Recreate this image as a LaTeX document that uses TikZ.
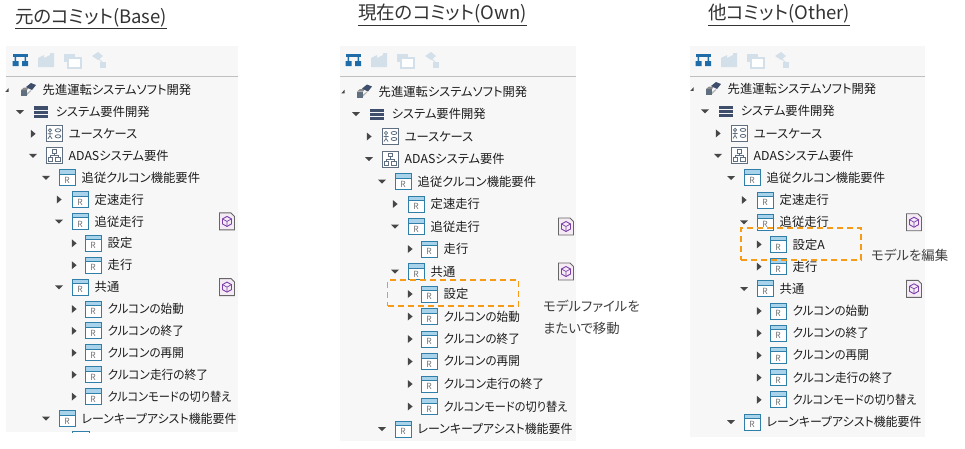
\documentclass[tikz,border=0pt]{standalone}
\usepackage{fontspec}
\setmainfont{Noto Sans CJK JP}[RawFeature={+palt}]
\usetikzlibrary{calc}
\definecolor{txt}{HTML}{1C1C1C}
\definecolor{rblue}{HTML}{2F7FA8}
\definecolor{rhead}{HTML}{A9D3EA}
\definecolor{navy}{HTML}{3F4F6B}
\definecolor{slate}{HTML}{5F6F80}
\definecolor{tb}{HTML}{1F6CA8}
\definecolor{tbp}{HTML}{D3DFE9}
\definecolor{dashor}{HTML}{F79A16}
\definecolor{purp}{HTML}{7A3FA8}
\tikzset{
  x=1pt,y=-1pt,
  panelbg/.style={fill=black!3,draw=none},
  rowtext/.style={anchor=west,inner sep=0pt,font=\fontsize{12.3}{14}\selectfont,text=txt},
  titletext/.style={anchor=west,inner sep=0pt,font=\fontsize{18.5}{22}\selectfont,text=black!80},
  notetext/.style={anchor=west,inner sep=0pt,font=\fontsize{13.4}{22}\selectfont,text=black!75,align=left},
  dashbox/.style={draw=dashor,line width=1.7pt,dash pattern=on 6pt off 4pt,inner sep=0pt},
}
\newcommand{\nar}[2]{\scalebox{#1}[1]{#2}}
\newcommand{\arrR}{\fill[black!72] (-2.2,-4)--(2.6,0)--(-2.2,4)--cycle;}
\newcommand{\arrD}{\fill[black!72] (-4,-1.8)--(4,-1.8)--(0,2.2)--cycle;}
\newcommand{\arrN}{\fill[black!72] (-1.7,1.8)--(1.7,-1.8)--(1.7,1.8)--cycle;}
\newcommand{\icoR}{%
  \fill[white] (-8,-8) rectangle (8,8);
  \fill[rhead] (-8,-8) rectangle (8,-4);
  \draw[rblue,line width=1pt] (-8,-8) rectangle (8,8);
  \draw[rblue,line width=1pt] (-8,-3.5) -- (8,-3.5);
  \node[inner sep=0pt,font=\fontsize{8.5}{9}\selectfont,text=black!55] at (0,2.5) {R};}
\newcommand{\icoRoot}{%
  \fill[slate] (-7,0) rectangle (-1,6);
  \fill[black!45] (-7,0) -- (-4,-2.5) -- (1,-2.5) -- (-1,0) -- cycle;
  \fill[navy] (-2,-3) -- (3,-7) -- (8,-5) -- (4,0) -- cycle;
  \fill[black!30] (-1,3) -- (3,0) -- (3,1) -- (-1,5) -- cycle;}
\newcommand{\icoStack}{%
  \fill[navy] (-7,-5.5) rectangle (7,-2);
  \fill[navy] (-7,-1) rectangle (7,2);
  \fill[navy] (-7,3) rectangle (7,6);}
\newcommand{\icoUse}{%
  \draw[slate,fill=white,line width=.9pt] (-8,-8) rectangle (8,8);
  \draw[slate,line width=.8pt] (-4,-3.5) circle (1.6) (-4,-2)--(-4,2) (-6.5,0)--(-1.5,0) (-6,5)--(-4,2)--(-2,5);
  \draw[slate,line width=.8pt] (4,-3.5) ellipse (2.8 and 1.6) (4,2.5) ellipse (2.8 and 1.6);}
\newcommand{\icoAdas}{%
  \draw[slate,fill=white,line width=.9pt] (-8,-8) rectangle (8,8);
  \draw[slate,line width=.8pt] (-2,-6) rectangle (2,-2.5) (-6,2) rectangle (-1.5,6) (1.5,2) rectangle (6,6);
  \draw[slate,line width=.8pt] (0,-2.5)--(0,0) (-4,2)--(-4,0)--(4,0)--(4,2);}
\newcommand{\icoModel}{%
  \fill[violet!8,draw=black!60,line width=.9pt] (-7.5,-8.5)--(4,-8.5)--(7.5,-5)--(7.5,8.5)--(-7.5,8.5)--cycle;
  \draw[purp,line width=.9pt] (0,-5)--(4.5,-2.5)--(4.5,2.5)--(0,5)--(-4.5,2.5)--(-4.5,-2.5)--cycle;
  \draw[purp,line width=.7pt] (-4.5,-2.5)--(0,0)--(4.5,-2.5) (0,0)--(0,5);}
\newcommand{\toolbar}[1]{%
  \begin{scope}[shift={(#1,60)}]
    \fill[tb] (12.5,-6.5) rectangle (28,-3.5);
    \fill[tb] (12.5,1) rectangle (18.5,6) (22,1) rectangle (28,6);
    \fill[tb] (14.5,-4) rectangle (16,2) (24.5,-4) rectangle (26,2);
    \fill[tbp] (38,-2) -- (44,-5) -- (44,-2) -- (50,-5) -- (50,-7) -- (54,-7) -- (54,7) -- (38,7) -- cycle;
    \fill[tbp] (64,-6) rectangle (75,2);
    \draw[tbp,fill=white,line width=1.2pt] (68,-2) rectangle (81,8);
    \fill[tbp] (92,-4) -- (98,-8) -- (103,-4) -- (98,0) -- cycle;
    \fill[tbp] (100,2) rectangle (106,8);
    \draw[tbp,line width=1pt] (99,-1)--(103,3);
  \end{scope}}
% #1 row index, #2 level, #3 arrow macro, #4 icon macro, #5 name, #6 text
\newcommand{\row}[6]{%
  \pgfmathsetmacro{\ry}{\py+#1*\pstep}%
  \pgfmathsetmacro{\rx}{\px+28+#2*13}%
  \pgfmathsetmacro{\ax}{\px+28+#2*13-(#2==5?19:21)}%
  \pgfmathsetmacro{\tx}{\rx+14.5}%
  \begin{scope}[shift={(\ax,\ry)}]#3\end{scope}
  \begin{scope}[shift={(\rx,\ry)}]#4\end{scope}
  \node[rowtext] (#5) at (\tx,\ry) {#6};}
\newcommand{\badge}[3]{%
  \pgfmathsetmacro{\ry}{\py+#2*\pstep}%
  \begin{scope}[shift={(#1,\ry)}]\icoModel\end{scope}}
\begin{document}
\begin{tikzpicture}
\useasboundingbox (0,0) rectangle (965,448);
\fill[white] (0,0) rectangle (965,448);
% ---------- Base
\fill[panelbg] (6,46) rectangle (238,432);
\node[titletext] (tbase) at (15,18.5) {\underline{元のコミット(Base)}};
\toolbar{0}
\draw[black!25,line width=1pt] (6,76) -- (238,76);
\def\px{0}\def\py{90}\def\pstep{21.9}
\row{0}{0}{\arrN}{\icoRoot}{b0}{先進運転システムソフト開発}
\row{1}{1}{\arrD}{\icoStack}{b1}{システム要件開発}
\row{2}{2}{\arrR}{\icoUse}{b2}{ユースケース}
\row{3}{2}{\arrD}{\icoAdas}{b3}{ADASシステム要件}
\row{4}{3}{\arrD}{\icoR}{b4}{追従クルコン機能要件}
\row{5}{4}{\arrR}{\icoR}{b5}{定速走行}
\row{6}{4}{\arrD}{\icoR}{b6}{追従走行}
\row{7}{5}{\arrR}{\icoR}{b7}{設定}
\row{8}{5}{\arrR}{\icoR}{b8}{走行}
\row{9}{4}{\arrD}{\icoR}{b9}{共通}
\row{10}{5}{\arrR}{\icoR}{b10}{\nar{.94}{クルコンの始動}}
\row{11}{5}{\arrR}{\icoR}{b11}{\nar{.94}{クルコンの終了}}
\row{12}{5}{\arrR}{\icoR}{b12}{\nar{.94}{クルコンの再開}}
\row{13}{5}{\arrR}{\icoR}{b13}{\nar{.95}{クルコン走行の終了}}
\row{14}{5}{\arrR}{\icoR}{b14}{\nar{.91}{クルコンモードの切り替え}}
\row{15}{3}{\arrD}{\icoR}{b15}{\nar{.97}{レーンキープアシスト機能要件}}
\badge{227}{6}{}\badge{227}{9}{}
\draw[rblue,line width=1pt] (72,434) -- (72,431.5) -- (89,431.5) -- (89,434);
\fill[white] (0,432.5) rectangle (300,448);
% ---------- Own
\fill[panelbg] (340,46) rectangle (576,441);
\node[titletext] (town) at (358,15) {\underline{現在のコミット(Own)}};
\toolbar{333}
\draw[black!25,line width=1pt] (340,76) -- (576,76);
\def\px{336}\def\py{91.5}\def\pstep{22.5}
\row{0}{0}{\arrN}{\icoRoot}{o0}{先進運転システムソフト開発}
\row{1}{1}{\arrD}{\icoStack}{o1}{システム要件開発}
\row{2}{2}{\arrR}{\icoUse}{o2}{ユースケース}
\row{3}{2}{\arrD}{\icoAdas}{o3}{ADASシステム要件}
\row{4}{3}{\arrD}{\icoR}{o4}{追従クルコン機能要件}
\row{5}{4}{\arrR}{\icoR}{o5}{定速走行}
\row{6}{4}{\arrD}{\icoR}{o6}{追従走行}
\row{7}{5}{\arrR}{\icoR}{o7}{走行}
\row{8}{4}{\arrD}{\icoR}{o8}{共通}
\row{9}{5}{\arrR}{\icoR}{o9}{設定}
\row{10}{5}{\arrR}{\icoR}{o10}{\nar{.94}{クルコンの始動}}
\row{11}{5}{\arrR}{\icoR}{o11}{\nar{.94}{クルコンの終了}}
\row{12}{5}{\arrR}{\icoR}{o12}{\nar{.94}{クルコンの再開}}
\row{13}{5}{\arrR}{\icoR}{o13}{\nar{.95}{クルコン走行の終了}}
\row{14}{5}{\arrR}{\icoR}{o14}{\nar{.91}{クルコンモードの切り替え}}
\row{15}{3}{\arrD}{\icoR}{o15}{\nar{.97}{レーンキープアシスト機能要件}}
\badge{566}{6}{}\badge{566}{8}{}
\node[dashbox,minimum width=131pt,minimum height=26pt] (obox) at (453,293) {};
\node[notetext] (onote) at (543,317) {モデルファイルを\\またいで移動};
% ---------- Other
\fill[panelbg] (690,46) rectangle (925,437);
\node[titletext] (toth) at (708,15) {\underline{他コミット(Other)}};
\toolbar{683}
\draw[black!25,line width=1pt] (690,76) -- (925,76);
\def\px{685}\def\py{89}\def\pstep{22.2}
\row{0}{0}{\arrN}{\icoRoot}{t0}{先進運転システムソフト開発}
\row{1}{1}{\arrD}{\icoStack}{t1}{システム要件開発}
\row{2}{2}{\arrR}{\icoUse}{t2}{ユースケース}
\row{3}{2}{\arrD}{\icoAdas}{t3}{ADASシステム要件}
\row{4}{3}{\arrD}{\icoR}{t4}{追従クルコン機能要件}
\row{5}{4}{\arrR}{\icoR}{t5}{定速走行}
\row{6}{4}{\arrD}{\icoR}{t6}{追従走行}
\row{7}{5}{\arrR}{\icoR}{t7}{設定A}
\row{8}{5}{\arrR}{\icoR}{t8}{走行}
\row{9}{4}{\arrD}{\icoR}{t9}{共通}
\row{10}{5}{\arrR}{\icoR}{t10}{\nar{.94}{クルコンの始動}}
\row{11}{5}{\arrR}{\icoR}{t11}{\nar{.94}{クルコンの終了}}
\row{12}{5}{\arrR}{\icoR}{t12}{\nar{.94}{クルコンの再開}}
\row{13}{5}{\arrR}{\icoR}{t13}{\nar{.95}{クルコン走行の終了}}
\row{14}{5}{\arrR}{\icoR}{t14}{\nar{.91}{クルコンモードの切り替え}}
\row{15}{3}{\arrD}{\icoR}{t15}{\nar{.97}{レーンキープアシスト機能要件}}
\badge{914}{6}{}\badge{914}{9}{}
\node[dashbox,minimum width=120pt,minimum height=32pt] (tbox) at (801,244) {};
\node[notetext] (tnote) at (871,255) {モデルを編集};
\end{tikzpicture}
\end{document}
